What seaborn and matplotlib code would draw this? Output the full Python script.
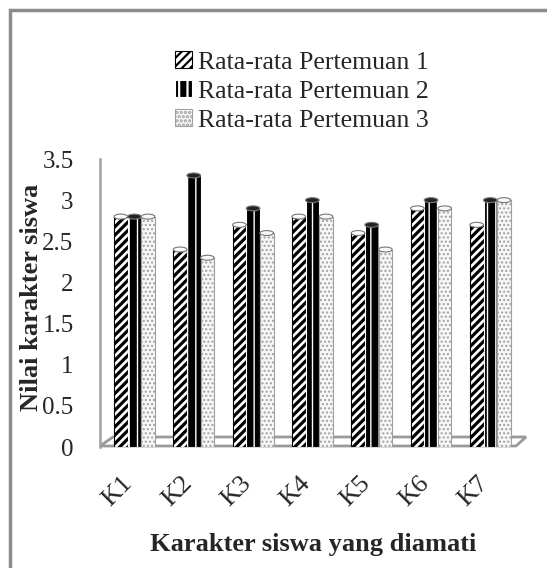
import numpy as np
import pandas as pd
import matplotlib
matplotlib.use("Agg")
import matplotlib.pyplot as plt
from matplotlib.patches import Patch, Rectangle, Polygon, Ellipse
from matplotlib.transforms import ScaledTranslation
from matplotlib.ticker import FuncFormatter
import seaborn as sns

# Average student character scores per observed trait, for three meetings
categories = ["K1", "K2", "K3", "K4", "K5", "K6", "K7"]
pertemuan_1 = [2.8, 2.4, 2.7, 2.8, 2.6, 2.9, 2.7]
pertemuan_2 = [2.8, 3.3, 2.9, 3.0, 2.7, 3.0, 3.0]
pertemuan_3 = [2.8, 2.3, 2.6, 2.8, 2.4, 2.9, 3.0]
series_names = ["Rata-rata Pertemuan 1", "Rata-rata Pertemuan 2", "Rata-rata Pertemuan 3"]
y_ticks = [0, 0.5, 1, 1.5, 2, 2.5, 3, 3.5]

df = pd.DataFrame({
    "Karakter": categories * 3,
    "Nilai": pertemuan_1 + pertemuan_2 + pertemuan_3,
    "Pertemuan": np.repeat(series_names, len(categories)),
})

sns.set_theme(style="white")
plt.rcParams["font.family"] = ["Liberation Serif", "DejaVu Serif"]
plt.rcParams["hatch.linewidth"] = 1.6

W, H = 547, 568
fig = plt.figure(figsize=(W / 100, H / 100), dpi=100)
fig.patch.set_facecolor("white")

# plot area in pixel terms: left 100, right 520, bottom 447, top 159
ax = fig.add_axes([100 / W, (H - 447) / H, 420 / W, 288 / H])

faces = ["white", "black", "#f7f7f7"]
edges = ["black", "white", "#a0a0a0"]
hatches = ["////", "||", "...."]
hatch_lw = [2.3, 1.0, 1.0]

sns.barplot(data=df, x="Karakter", y="Nilai", hue="Pertemuan", ax=ax,
            palette=faces, saturation=1, width=0.69, gap=0, legend=False,
            linewidth=0.8)


def style_patch(p, fc, ec, ht, hl):
    p.set_facecolor(fc)
    p.set_edgecolor(ec)
    p.set_hatch(ht)
    if hasattr(p, "set_hatch_linewidth"):
        p.set_hatch_linewidth(hl)


for cont, fc, ec, ht, hl in zip(ax.containers, faces, edges, hatches, hatch_lw):
    for p in cont.patches:
        style_patch(p, fc, ec, ht, hl)
        # cylinder cap on top of each bar
        cap = Ellipse((p.get_x() + p.get_width() / 2, p.get_height()),
                      p.get_width(), 0.06, facecolor=fc if fc != "black" else "#222222",
                      edgecolor="#777777", lw=0.8, zorder=p.get_zorder() + 0.1)
        ax.add_patch(cap)

ax.set_xlim(-0.58, 6.5)
ax.set_ylim(0, 3.5)
ax.set_yticks(y_ticks)
ax.yaxis.set_major_formatter(FuncFormatter(lambda v, _: f"{v:g}"))
ax.tick_params(axis="y", length=0, pad=19, labelsize=18)
ax.tick_params(axis="x", length=0, pad=32, labelsize=19)
for lab in ax.get_xticklabels():
    lab.set_rotation(45)
    lab.set_ha("center")
    lab.set_va("center")
    lab.set_transform(lab.get_transform() +
                      ScaledTranslation(-16.5 / 100, 0, fig.dpi_scale_trans))

for s in ["top", "right", "bottom"]:
    ax.spines[s].set_visible(False)
ax.spines["left"].set_color("#a0a0a0")
ax.spines["left"].set_linewidth(1.8)
ax.patch.set_alpha(0)

ax.set_xlabel("Karakter siswa yang diamati", fontsize=19, fontweight="bold")
ax.set_ylabel("Nilai karakter siswa", fontsize=19, fontweight="bold")
ax.xaxis.label.set_va("center")
ax.yaxis.label.set_va("center")
ax.xaxis.set_label_coords(0.507, -0.34)
ax.yaxis.set_label_coords(-0.164, 0.52)


# floor of the plot area
def px(x, y):
    return (x / W, 1 - y / H)


floor = Polygon([px(100, 446), px(113, 437), px(526, 437), px(516, 446)],
                closed=True, transform=fig.transFigure, facecolor="white",
                edgecolor="#9a9a9a", lw=2, zorder=0)
fig.add_artist(floor)

# outer chart frame
frame = Rectangle(px(10, 600), 1.2, (600 - 10) / H, transform=fig.transFigure,
                  fill=False, edgecolor="#8c8c8c", lw=2.5)
fig.add_artist(frame)

handles = []
for fc, ec, ht, hl in zip(faces, edges, hatches, hatch_lw):
    h = Patch(lw=0.8)
    style_patch(h, fc, ec, ht, hl)
    handles.append(h)
fig.legend(handles, series_names, loc="upper center",
           bbox_to_anchor=(302 / W, 1 - 28 / H), frameon=False,
           fontsize=18.5, handlelength=0.65, handleheight=0.65,
           handletextpad=0.25, labelspacing=0.25)

fig.savefig("out.png", dpi=100)
